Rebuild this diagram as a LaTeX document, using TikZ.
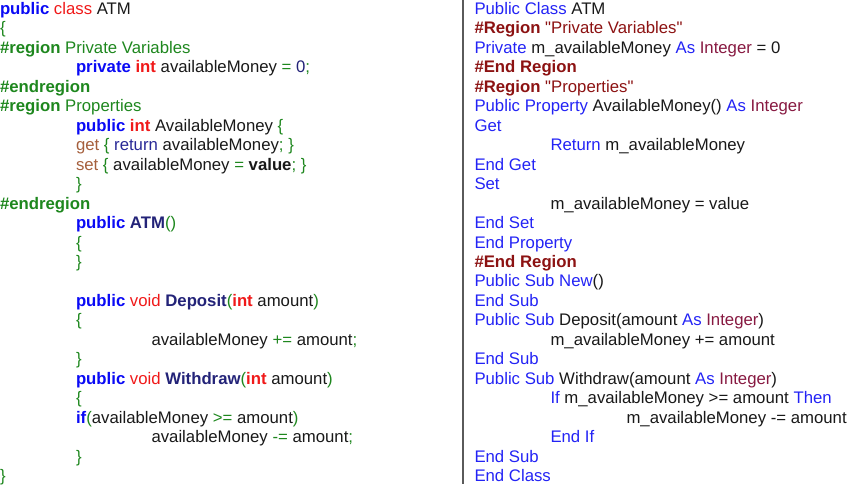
\documentclass[tikz,border=0pt]{standalone}
\usepackage{fontspec}
\setmainfont{Liberation Sans}[Ligatures=TeXOff]
\definecolor{cBlue}{RGB}{10,10,245}
\definecolor{cRed}{RGB}{240,25,25}
\definecolor{cGreen}{RGB}{30,135,30}
\definecolor{cNavy}{RGB}{35,35,120}
\definecolor{cRet}{RGB}{40,40,150}
\definecolor{cBrown}{RGB}{165,95,60}
\definecolor{cText}{RGB}{25,25,25}
\definecolor{vBlue}{RGB}{35,35,245}
\definecolor{vDRed}{RGB}{140,18,18}
\definecolor{vInt}{RGB}{135,25,65}
\definecolor{cRule}{RGB}{90,90,90}
\newcommand\cKw[1]{\textcolor{cBlue}{\textbf{#1}}}
\newcommand\cRd[1]{\textcolor{cRed}{#1}}
\newcommand\cRdB[1]{\textcolor{cRed}{\textbf{#1}}}
\newcommand\cGr[1]{\textcolor{cGreen}{#1}}
\newcommand\cGrB[1]{\textcolor{cGreen}{\textbf{#1}}}
\newcommand\cNv[1]{\textcolor{cNavy}{#1}}
\newcommand\cNvB[1]{\textcolor{cNavy}{\textbf{#1}}}
\newcommand\cBr[1]{\textcolor{cBrown}{#1}}
\newcommand\vKw[1]{\textcolor{vBlue}{#1}}
\newcommand\vRg[1]{\textcolor{vDRed}{\textbf{#1}}}
\newcommand\vSt[1]{\textcolor{vDRed}{#1}}
\newcommand\vIn[1]{\textcolor{vInt}{#1}}
\newcommand\codefont{\fontsize{16.75pt}{19.46pt}\selectfont\color{cText}}
\tikzset{codeline/.style={anchor=base west, inner sep=0pt, outer sep=0pt, font=\codefont}}
\begin{document}
\begin{tikzpicture}[x=1pt,y=-19.46pt]
\useasboundingbox (0pt,0pt) rectangle (850pt,-484pt);
\draw[cRule, line width=1.6pt] (462.8pt,0pt) coordinate (rt) -- (462.8pt,-484pt) coordinate (rb);
\begin{scope}[yshift=-14.5pt]
% left column (C#)
\node[codeline] (L1) at (0,0) {\cKw{public} \cRd{class} ATM};
\node[codeline] (L2) at (0,1) {\cGr{\{}};
\node[codeline] (L3) at (0,2) {\cGrB{\#region} \cGr{Private Variables}};
\node[codeline] (L4) at (76,3) {\cKw{private} \cRdB{int} availableMoney \cGr{=} \cNv{0}\cGr{;}};
\node[codeline] (L5) at (0,4) {\cGrB{\#endregion}};
\node[codeline] (L6) at (0,5) {\cGrB{\#region} \cGr{Properties}};
\node[codeline] (L7) at (76,6) {\cKw{public} \cRdB{int} AvailableMoney \cGr{\{}};
\node[codeline] (L8) at (76,7) {\cBr{get} \cGr{\{} \textcolor{cRet}{return} availableMoney\cGr{;} \cGr{\}}};
\node[codeline] (L9) at (76,8) {\cBr{set} \cGr{\{} availableMoney \cGr{=} \textbf{value}\cGr{;} \cGr{\}}};
\node[codeline] (L10) at (76,9) {\cGr{\}}};
\node[codeline] (L11) at (0,10) {\cGrB{\#endregion}};
\node[codeline] (L12) at (76,11) {\cKw{public} \cNvB{ATM}\cGr{()}};
\node[codeline] (L13) at (76,12) {\cGr{\{}};
\node[codeline] (L14) at (76,13) {\cGr{\}}};
\node[codeline] (L16) at (76,15) {\cKw{public} \cRd{void} \cNvB{Deposit}\cGr{(}\cRdB{int} amount\cGr{)}};
\node[codeline] (L17) at (76,16) {\cGr{\{}};
\node[codeline] (L18) at (151.5,17) {availableMoney \cGr{+=} amount\cGr{;}};
\node[codeline] (L19) at (76,18) {\cGr{\}}};
\node[codeline] (L20) at (76,19) {\cKw{public} \cRd{void} \cNvB{Withdraw}\cGr{(}\cRdB{int} amount\cGr{)}};
\node[codeline] (L21) at (76,20) {\cGr{\{}};
\node[codeline] (L22) at (76,21) {\cKw{if}\cGr{(}availableMoney \cGr{>=} amount\cGr{)}};
\node[codeline] (L23) at (151.5,22) {availableMoney \cGr{-=} amount\cGr{;}};
\node[codeline] (L24) at (76,23) {\cGr{\}}};
\node[codeline] (L25) at (0,24) {\cGr{\}}};
% right column (VB.NET)
\node[codeline] (R1) at (474.5,0) {\vKw{Public Class} ATM};
\node[codeline] (R2) at (474.5,1) {\vRg{\#Region} \vSt{"Private Variables"}};
\node[codeline] (R3) at (474.5,2) {\vKw{Private} m\_availableMoney \vKw{As} \vIn{Integer} = 0};
\node[codeline] (R4) at (474.5,3) {\vRg{\#End Region}};
\node[codeline] (R5) at (474.5,4) {\vRg{\#Region} \vSt{"Properties"}};
\node[codeline] (R6) at (474.5,5) {\vKw{Public Property} AvailableMoney() \vKw{As} \vIn{Integer}};
\node[codeline] (R7) at (474.5,6) {\vKw{Get}};
\node[codeline] (R8) at (550.5,7) {\vKw{Return} m\_availableMoney};
\node[codeline] (R9) at (474.5,8) {\vKw{End Get}};
\node[codeline] (R10) at (474.5,9) {\vKw{Set}};
\node[codeline] (R11) at (550.5,10) {m\_availableMoney = value};
\node[codeline] (R12) at (474.5,11) {\vKw{End Set}};
\node[codeline] (R13) at (474.5,12) {\vKw{End Property}};
\node[codeline] (R14) at (474.5,13) {\vRg{\#End Region}};
\node[codeline] (R15) at (474.5,14) {\vKw{Public Sub New}()};
\node[codeline] (R16) at (474.5,15) {\vKw{End Sub}};
\node[codeline] (R17) at (474.5,16) {\vKw{Public Sub} Deposit(amount \vKw{As} \vIn{Integer})};
\node[codeline] (R18) at (550.5,17) {m\_availableMoney += amount};
\node[codeline] (R19) at (474.5,18) {\vKw{End Sub}};
\node[codeline] (R20) at (474.5,19) {\vKw{Public Sub} Withdraw(amount \vKw{As} \vIn{Integer})};
\node[codeline] (R21) at (550.5,20) {\vKw{If} m\_availableMoney >= amount \vKw{Then}};
\node[codeline] (R22) at (626.5,21) {m\_availableMoney -= amount};
\node[codeline] (R23) at (550.5,22) {\vKw{End If}};
\node[codeline] (R24) at (474.5,23) {\vKw{End Sub}};
\node[codeline] (R25) at (474.5,24) {\vKw{End Class}};
\end{scope}
\end{tikzpicture}
\end{document}
